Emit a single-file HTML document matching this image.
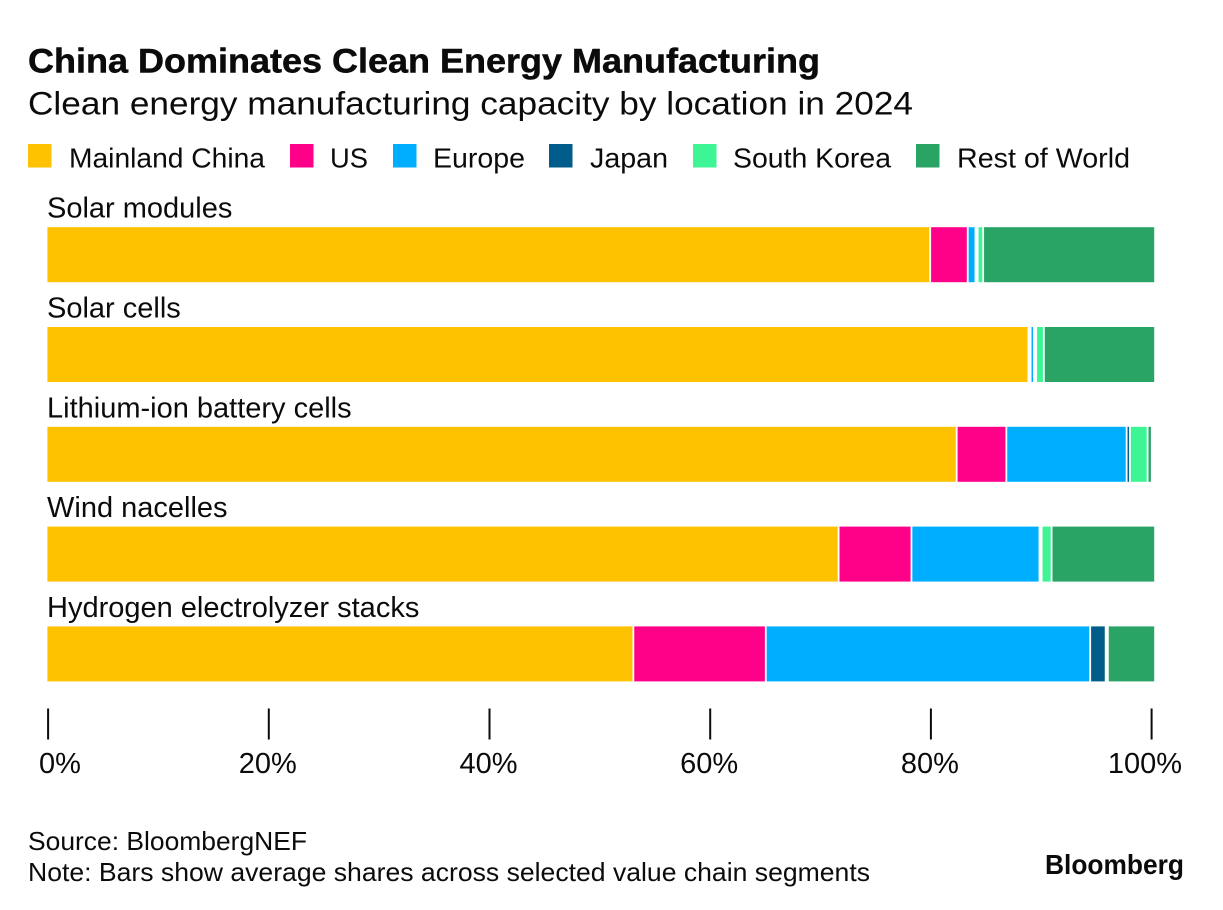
<!DOCTYPE html>
<html lang="en">
<head>
<meta charset="utf-8">
<title>China Dominates Clean Energy Manufacturing</title>
<style>
html,body{margin:0;padding:0;background:#fff;width:1223px;height:910px;overflow:hidden}
svg{display:block}
text{font-family:"Liberation Sans",sans-serif;fill:#0b0b0b}
</style>
</head>
<body>
<svg id="chart" width="1223" height="910" viewBox="0 0 1223 910">
  <rect width="1223" height="910" fill="#fff"/>
  <text x="28" y="72.5" font-size="34" font-weight="700" textLength="792" lengthAdjust="spacingAndGlyphs" stroke="#0b0b0b" stroke-width="0.5">China Dominates Clean Energy Manufacturing</text>
  <text x="28" y="114.5" font-size="32" textLength="885" lengthAdjust="spacingAndGlyphs">Clean energy manufacturing capacity by location in 2024</text>

  <g>
    <rect x="28" y="144" width="23.5" height="23.5" fill="#FFC200"/>
    <text x="69" y="167.5" font-size="28" textLength="196" lengthAdjust="spacingAndGlyphs">Mainland China</text>
    <rect x="290" y="144" width="23.5" height="23.5" fill="#FF0088"/>
    <text x="330" y="167.5" font-size="28" textLength="38" lengthAdjust="spacingAndGlyphs">US</text>
    <rect x="393" y="144" width="23.5" height="23.5" fill="#00AEFF"/>
    <text x="433" y="167.5" font-size="28" textLength="92" lengthAdjust="spacingAndGlyphs">Europe</text>
    <rect x="549" y="144" width="23.5" height="23.5" fill="#005C8A"/>
    <text x="590" y="167.5" font-size="28" textLength="78" lengthAdjust="spacingAndGlyphs">Japan</text>
    <rect x="693" y="144" width="23.5" height="23.5" fill="#3EF596"/>
    <text x="733" y="167.5" font-size="28" textLength="158" lengthAdjust="spacingAndGlyphs">South Korea</text>
    <rect x="916" y="144" width="23.5" height="23.5" fill="#29A465"/>
    <text x="957" y="167.5" font-size="28" textLength="173" lengthAdjust="spacingAndGlyphs">Rest of World</text>
  </g>

  <g id="bars"></g>
  <g id="axis"></g>

  <text x="28" y="850" font-size="26" textLength="279" lengthAdjust="spacingAndGlyphs">Source: BloombergNEF</text>
  <text x="28" y="881" font-size="26" textLength="842" lengthAdjust="spacingAndGlyphs">Note: Bars show average shares across selected value chain segments</text>
  <text x="1045" y="874" font-size="28" font-weight="700" textLength="139" lengthAdjust="spacingAndGlyphs">Bloomberg</text>
</svg>
<script>
const categories = ["Solar modules", "Solar cells", "Lithium-ion battery cells", "Wind nacelles", "Hydrogen electrolyzer stacks"];
const seriesNames = ["Mainland China", "US", "Europe", "Japan", "South Korea", "Rest of World"];
const mainlandChina = [80.0, 88.9, 82.4, 71.7, 53.1];
const us = [3.4, 0.2, 4.5, 6.6, 12.0];
const europe = [0.7, 0.3, 10.9, 11.6, 29.4];
const japan = [0.2, 0.2, 0.3, 0.2, 1.4];
const southKorea = [0.5, 0.7, 1.6, 0.9, 0.2];
const restOfWorld = [15.5, 10.0, 0.3, 9.3, 4.2];
const tickValues = [0, 20, 40, 60, 80, 100];
const tickLabels = ["0%", "20%", "40%", "60%", "80%", "100%"];

const seriesColors = ["#FFC200", "#FF0088", "#00AEFF", "#005C8A", "#3EF596", "#29A465"];
const allSeries = [mainlandChina, us, europe, japan, southKorea, restOfWorld];
const NS = "http://www.w3.org/2000/svg";
const barsGroup = document.getElementById("bars");
const axisGroup = document.getElementById("axis");

function xScale(v) { return 47.4 + 11.035 * v; }
function yBand(i) { return 227.2 + 99.8 * i; }
const barHeight = 55;
const gap = 1.8;

categories.forEach(function (cat, i) {
  const label = document.createElementNS(NS, "text");
  label.setAttribute("x", 47);
  label.setAttribute("y", yBand(i) - 9.5);
  label.setAttribute("font-size", 29);
  label.textContent = cat;
  
  
  barsGroup.appendChild(label);

  let cum = 0;
  const last = allSeries.length - 1;
  allSeries.forEach(function (values, s) {
    const left = xScale(cum) + (s === 0 ? 0 : gap / 2);
    cum += values[i];
    const right = xScale(cum) - (s === last ? 0 : gap / 2);
    const w = right - left;
    if (w < 1) return;
    const r = document.createElementNS(NS, "rect");
    r.setAttribute("x", left);
    r.setAttribute("y", yBand(i));
    r.setAttribute("width", w);
    r.setAttribute("height", barHeight);
    r.setAttribute("fill", seriesColors[s]);
    
    
    r.setAttribute("aria-label", cat + " " + seriesNames[s] + ": " + values[i] + "%");
    barsGroup.appendChild(r);
  });
});

tickValues.forEach(function (t, i) {
  const x = xScale(t) + 0.7;
  const line = document.createElementNS(NS, "line");
  line.setAttribute("x1", x);
  line.setAttribute("x2", x);
  line.setAttribute("y1", 708.5);
  line.setAttribute("y2", 739.5);
  line.setAttribute("stroke", "#0b0b0b");
  line.setAttribute("stroke-width", 2);
  
  
  axisGroup.appendChild(line);

  const lab = document.createElementNS(NS, "text");
  lab.setAttribute("x", Math.min(1145, Math.max(60, x - 1)));
  lab.setAttribute("y", 773);
  lab.setAttribute("font-size", 29);
  lab.setAttribute("text-anchor", "middle");
  lab.textContent = tickLabels[i];
  
  
  axisGroup.appendChild(lab);
});
</script>
</body>
</html>
